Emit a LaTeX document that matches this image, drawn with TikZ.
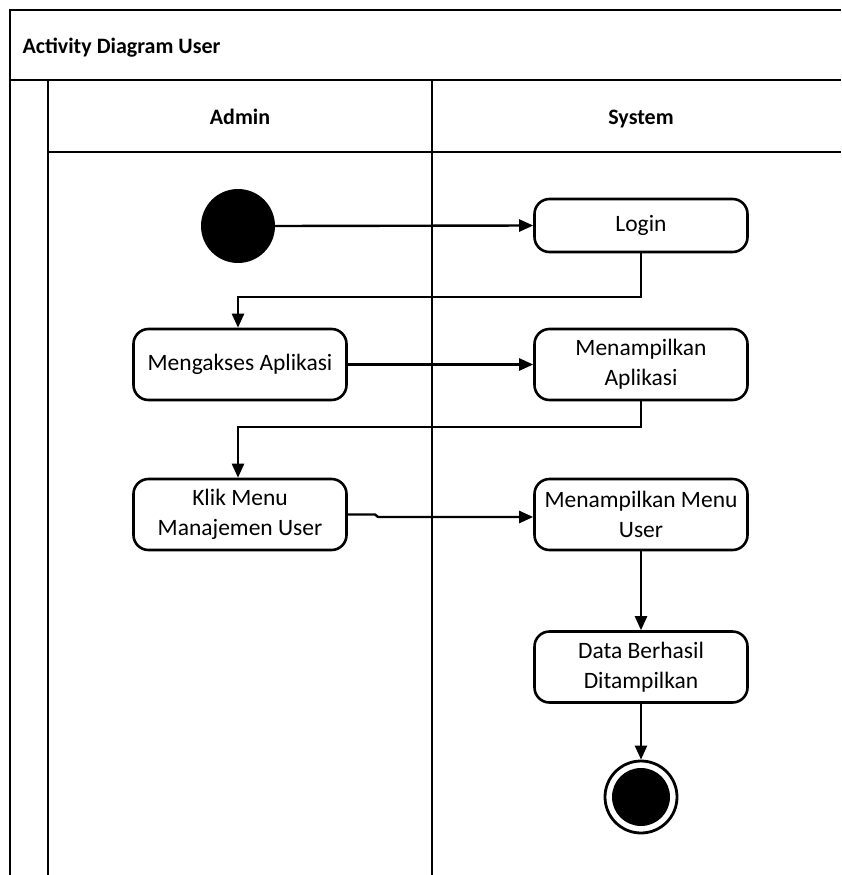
\documentclass[tikz,border=0pt]{standalone}
\usepackage{fontspec}
\setmainfont{Carlito}
\usetikzlibrary{arrows.meta}
\begin{document}
\begin{tikzpicture}[x=1pt,y=-1pt,
  frame/.style={line width=2.8pt},
  act/.style={draw,line width=2.6pt,rounded corners=15pt,minimum width=213pt,minimum height=71pt,align=center,font=\fontsize{23.5}{30}\selectfont,inner sep=2pt},
  flow/.style={line width=2.4pt,-{Triangle[length=14pt,width=12pt]}},
  hdr/.style={font=\fontsize{22}{26}\selectfont\bfseries}]
\useasboundingbox (0,0) rectangle (841,875);
% frame
\draw[frame] (841,10) -- (10,10) -- (10,875);
\draw[frame] (10,80) -- (841,80);
\draw[frame] (48,80) -- (48,875);
\draw[frame] (48,152) -- (841,152);
\draw[frame] (432,80) -- (432,875);
\node[hdr,anchor=base west] (title) at (19,54) {Activity Diagram User};
\node[hdr,anchor=base] (admin) at (240,124) {Admin};
\node[hdr,anchor=base] (system) at (641,124) {System};
% nodes
\node[circle,fill=black,minimum size=74pt,inner sep=0pt] (start) at (238,226) {};
\node[act,minimum height=53pt] (login) at (641,225.5) {Login};
\node[act] (akses) at (240,364.5) {Mengakses Aplikasi};
\node[act] (tampil) at (641,364.5) {Menampilkan\\Aplikasi};
\node[act] (klik) at (240,514.5) {Klik Menu\\Manajemen User};
\node[act] (menu) at (641,514.5) {Menampilkan Menu\\User};
\node[act] (data) at (641,667) {Data Berhasil\\Ditampilkan};
\node[circle,draw,line width=2.8pt,minimum size=72pt,inner sep=0pt] (end) at (641,797) {};
\node[circle,fill=black,minimum size=58pt,inner sep=0pt] (endin) at (end.center) {};
% connectors
\draw[flow] (start.east) -- (login.west);
\draw[flow] (login.south) |- (238,297) -- (akses.north -| 238,0);
\draw[flow] (akses.east) -- (tampil.west);
\draw[flow] (tampil.south) |- (238,427) -- (klik.north -| 238,0);
\draw[flow] (klik.east) -- (375,514.5) -- (378,517) -- (menu.west |- 0,517);
\draw[flow] (menu.south) -- (data.north);
\draw[flow] (data.south) -- (end.north);
\end{tikzpicture}
\end{document}
